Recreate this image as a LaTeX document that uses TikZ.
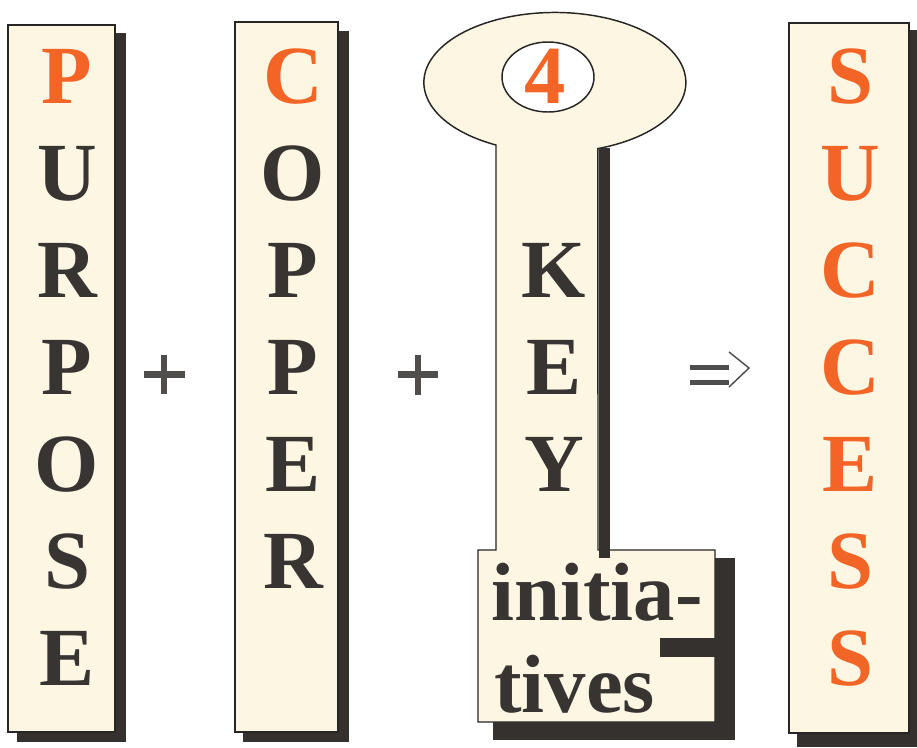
\documentclass[tikz,border=0pt]{standalone}
\usepackage{fontspec}
\setmainfont{Liberation Serif}
\usetikzlibrary{shapes.geometric}
\definecolor{cream}{RGB}{252,246,226}
\definecolor{ink}{RGB}{55,52,50}
\definecolor{hot}{RGB}{243,101,38}
\definecolor{shadowc}{RGB}{52,49,46}
\definecolor{edge}{RGB}{40,38,36}
\definecolor{signc}{RGB}{80,78,76}
\begin{document}
\begin{tikzpicture}[x=0.75pt,y=-0.75pt,
  panel/.style={fill=cream,draw=edge,line width=1.1pt},
  drop/.style={fill=shadowc,draw=none},
  letter/.style={font=\fontsize{62}{62}\selectfont\bfseries,text=ink,inner sep=0pt,anchor=base},
  sign/.style={fill=signc,draw=none}]
\useasboundingbox (0,0) rectangle (917,747);
\fill[white] (0,0) rectangle (917,747);

% drop shadows
\fill[drop] (17,33) rectangle (126,742);
\fill[drop] (243,31) rectangle (349,742);
\fill[drop] (797,30) rectangle (917,747);
\fill[drop] (493,558) rectangle (735,740);

% upright panels
\path[panel] (8,25) rectangle (115,732);
\path[panel] (235,22) rectangle (338,732);
\path[panel] (789,23) rectangle (909,733);

% key: bow, stem and bit
\path[panel] (496,145) arc[start angle=116.7,end angle=430.8,x radius=131,y radius=70]
  -- (598,550) -- (715,550) -- (715,722) -- (478,722) -- (478,550) -- (496,550) -- cycle;
\fill[drop] (599,148) rectangle (610,558);
\fill[drop] (660,638) rectangle (716,657);
\node[ellipse,draw=edge,line width=1.1pt,fill=white,minimum width=69pt,minimum height=52.5pt,inner sep=0pt] (ring) at (548,77) {};
\node[letter,text=hot] (four) at (545,103) {4};

% words
\foreach \col/\c [count=\i from 0] in {hot/P,ink/U,ink/R,ink/P,ink/O,ink/S,ink/E}
  \node[letter,text=\col] (p\i) at (67,{103+97*\i}) {\c};
\foreach \col/\c [count=\i from 0] in {hot/C,ink/O,ink/P,ink/P,ink/E,ink/R}
  \node[letter,text=\col] (c\i) at (293,{103+97*\i}) {\c};
\foreach \c [count=\i from 0] in {S,U,C,C,E,S,S}
  \node[letter,text=hot] (s\i) at (850,{103+97*\i}) {\c};
\foreach \c [count=\i from 0] in {K,E,Y}
  \node[letter] (k\i) at (554,{297+97*\i}) {\c};
\node[letter,anchor=base west] (init) at (491,620) {initia-};
\node[letter,anchor=base west] (tives) at (494,712) {tives};

% plus signs
\fill[sign] (144,371) rectangle (185,378);
\fill[sign] (161,355) rectangle (167,394);
\fill[sign] (398,371) rectangle (438,378);
\fill[sign] (415,355) rectangle (421,395);

% implies arrow
\fill[sign] (690,365) rectangle (729,370);
\fill[sign] (690,380) rectangle (729,385);
\coordinate (tipa) at (729,352);
\coordinate (tipb) at (749,368);
\coordinate (tipc) at (729,387);
\draw[signc,line width=1.1pt] (tipa) -- (tipb) -- (tipc);
\end{tikzpicture}
\end{document}
